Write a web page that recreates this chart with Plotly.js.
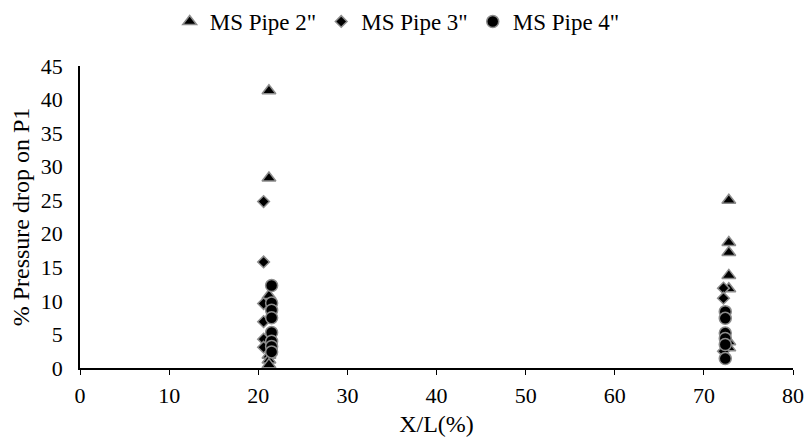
<!DOCTYPE html>
<html><head><meta charset="utf-8">
<script src="https://cdn.plot.ly/plotly-3.0.1.min.js"></script>
<style>html,body{margin:0;padding:0;background:#fff}#chart{width:804px;height:443px}</style>
</head><body><div id="chart"></div>
<script>
// MS Pipe 2"
const p2X = [21.2, 21.2, 21.2, 21.2, 21.2, 21.2, 72.8, 72.8, 72.8, 72.8, 72.8, 72.8, 72.8];
const p2Y = [41.3, 28.3, 10.8, 1.9, 1.2, 0.5, 25.0, 18.7, 17.2, 13.8, 11.8, 3.9, 3.0];
// MS Pipe 3"
const p3X = [20.6, 20.6, 20.6, 20.6, 20.6, 20.6, 72.2, 72.2, 72.2];
const p3Y = [24.8, 15.8, 9.6, 6.9, 4.3, 3.1, 11.9, 10.4, 2.5];
// MS Pipe 4"
const p4X = [21.5, 21.5, 21.5, 21.5, 21.5, 21.5, 21.5, 21.5, 72.4, 72.4, 72.4, 72.4, 72.4, 72.4];
const p4Y = [12.3, 9.7, 8.6, 7.5, 5.3, 4.0, 3.2, 2.4, 8.4, 7.4, 5.2, 4.4, 3.5, 1.4];

const seriesNames = ['MS Pipe 2"', 'MS Pipe 3"', 'MS Pipe 4"'];
const outline = {color: '#8c8c8c', width: 1.5};

const data = [
  {x: p2X, y: p2Y, name: seriesNames[0], type: 'scatter', mode: 'markers',
   marker: {symbol: 'triangle-up', size: 12, color: '#000', line: outline}},
  {x: p3X, y: p3Y, name: seriesNames[1], type: 'scatter', mode: 'markers',
   marker: {symbol: 'diamond', size: 9, color: '#000', line: outline}},
  {x: p4X, y: p4Y, name: seriesNames[2], type: 'scatter', mode: 'markers',
   marker: {symbol: 'circle', size: 12, color: '#000', line: outline}}
];

const fam = 'Liberation Serif';

const layout = {
  width: 804, height: 443,
  margin: {l: 80, r: 11, t: 66, b: 75},
  paper_bgcolor: '#fff', plot_bgcolor: '#fff',
  font: {family: fam, size: 22, color: '#000'},
  showlegend: true,
  legend: {orientation: 'h', x: 0.494, xref: 'container', xanchor: 'center', y: 1.0, yref: 'container', yanchor: 'top',
           font: {family: fam, size: 23, color: '#000'}},
  xaxis: {range: [0, 80], dtick: 10, tick0: 0, showgrid: false, zeroline: false,
          showline: true, linecolor: '#000', linewidth: 1.5, ticks: 'outside', ticklen: 5, tickcolor: '#000',
          ticklabelstandoff: 2,
          tickfont: {family: fam, size: 22, color: '#000'},
          title: {text: 'X/L(%)', font: {family: fam, size: 24, color: '#000'}, standoff: 8}},
  yaxis: {range: [0, 45], dtick: 5, tick0: 0, showgrid: false, zeroline: false,
          showline: true, linecolor: '#000', linewidth: 1.5, ticks: '',
          ticklabelstandoff: 11,
          tickfont: {family: fam, size: 22, color: '#000'},
          title: {text: '% Pressure drop on P1', font: {family: fam, size: 24, color: '#000'}, standoff: 4}}
};

Plotly.newPlot('chart', data, layout, {displayModeBar: false});
</script></body></html>
